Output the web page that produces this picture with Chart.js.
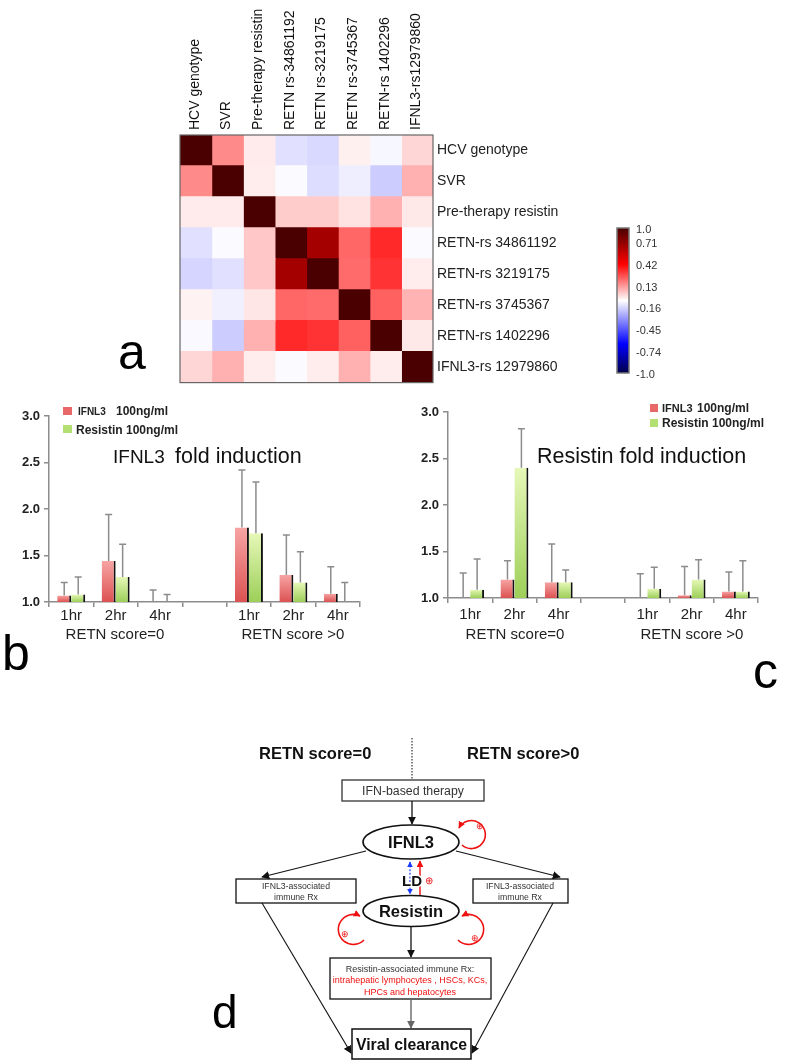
<!DOCTYPE html>
<html>
<head>
<meta charset="utf-8">
<script src="https://cdn.jsdelivr.net/npm/chart.js@4.4.1/dist/chart.umd.min.js"></script>
<style>
html, body { margin: 0; padding: 0; background: #fff; }
body { width: 787px; height: 1063px; position: relative; overflow: hidden; font-family: Arial, "Liberation Sans", sans-serif; }
canvas, svg { position: absolute; }
#heat { left: 170px; top: 0; }
#barB { left: 0; top: 395px; }
#barC { left: 395px; top: 395px; }
#over { left: 0; top: 0; }
svg text { font-family: Arial, "Liberation Sans", sans-serif; }
</style>
</head>
<body>
<canvas id="heat" width="430" height="395"></canvas>
<canvas id="barB" width="385" height="235"></canvas>
<canvas id="barC" width="392" height="235"></canvas>

<svg id="over" width="787" height="1063" xmlns="http://www.w3.org/2000/svg">
  <defs>
    <linearGradient id="cbar" x1="0" y1="0" x2="0" y2="1"></linearGradient>
    <marker id="ah" viewBox="0 0 10 10" refX="9" refY="5" markerWidth="8" markerHeight="8" markerUnits="userSpaceOnUse" orient="auto-start-reverse"><path d="M0,0 L10,5 L0,10 z" fill="#111"/></marker>
    <marker id="ahGray" viewBox="0 0 10 10" refX="9" refY="5" markerWidth="8" markerHeight="8" markerUnits="userSpaceOnUse" orient="auto-start-reverse"><path d="M0,0 L10,5 L0,10 z" fill="#666"/></marker>
    <marker id="ahRed" viewBox="0 0 10 10" refX="9" refY="5" markerWidth="7" markerHeight="7" markerUnits="userSpaceOnUse" orient="auto-start-reverse"><path d="M0,0 L10,5 L0,10 z" fill="#ee1111"/></marker>
    <marker id="ahBlue" viewBox="0 0 10 10" refX="9" refY="5" markerWidth="6" markerHeight="6" markerUnits="userSpaceOnUse" orient="auto-start-reverse"><path d="M0,0 L10,5 L0,10 z" fill="#1a3cff"/></marker>
  </defs>

  <!-- panel letters -->
  <text x="118" y="369" font-size="50">a</text>
  <text x="2" y="670" font-size="50">b</text>
  <text x="753" y="688" font-size="50">c</text>
  <text x="212" y="1028" font-size="46">d</text>

  <!-- colour bar -->
  <rect x="617" y="228" width="12" height="145" fill="url(#cbar)" stroke="#777" stroke-width="1.5"/>
  <g id="cbLabels" font-size="11" fill="#333"></g>

  <!-- panel b overlays -->
  <rect x="63" y="407" width="9" height="8" fill="#e8686a"/>
  <text x="78" y="415" font-size="10" font-weight="bold" fill="#222">IFNL3</text>
  <text x="116" y="415" font-size="12" font-weight="bold" fill="#222">100ng/ml</text>
  <rect x="63" y="425" width="9" height="8" fill="#b4df72"/>
  <text x="76" y="434" font-size="12" font-weight="bold" fill="#222">Resistin 100ng/ml</text>
  <text x="113" y="463" font-size="19" fill="#111">IFNL3</text>
  <text x="175" y="463" font-size="21.5" fill="#111">fold induction</text>
  <text x="115" y="639" font-size="15" fill="#222" text-anchor="middle">RETN score=0</text>
  <text x="293" y="639" font-size="15" fill="#222" text-anchor="middle">RETN score &gt;0</text>

  <!-- panel c overlays -->
  <rect x="650" y="404" width="8" height="8" fill="#e8686a"/>
  <text x="662" y="412" font-size="11" font-weight="bold" fill="#222">IFNL3</text>
  <text x="697" y="412" font-size="12" font-weight="bold" fill="#222">100ng/ml</text>
  <rect x="650" y="419" width="8" height="8" fill="#b4df72"/>
  <text x="662" y="427" font-size="12" font-weight="bold" fill="#222">Resistin 100ng/ml</text>
  <text x="537" y="463" font-size="21.5" fill="#111">Resistin fold induction</text>
  <text x="515" y="639" font-size="15" fill="#222" text-anchor="middle">RETN score=0</text>
  <text x="692" y="639" font-size="15" fill="#222" text-anchor="middle">RETN score &gt;0</text>

  <!-- panel d diagram -->
  <text x="259" y="759" font-size="16.5" font-weight="bold" fill="#111">RETN score=0</text>
  <text x="467" y="759" font-size="16.5" font-weight="bold" fill="#111">RETN score&gt;0</text>
  <line x1="412" y1="738" x2="412" y2="779" stroke="#333" stroke-width="1.2" stroke-dasharray="1.5 1.5"/>
  <rect x="342" y="780" width="142" height="21" fill="#fff" stroke="#333" stroke-width="1.3"/>
  <text x="413" y="795" font-size="12.3" fill="#333" text-anchor="middle">IFN-based therapy</text>
  <line x1="412" y1="801" x2="412" y2="824" stroke="#111" stroke-width="1.3" marker-end="url(#ah)"/>

  <ellipse cx="411" cy="842" rx="48" ry="17" fill="#fff" stroke="#111" stroke-width="1.6"/>
  <text x="411" y="848" font-size="16.5" font-weight="bold" fill="#111" text-anchor="middle">IFNL3</text>
  <path d="M462,845 A14,14 0 1 0 459,828" fill="none" stroke="#ee1111" stroke-width="1.6" marker-end="url(#ahRed)"/>
  <text x="480" y="829" font-size="9" fill="#ee1111" text-anchor="middle" font-family="DejaVu Sans">⊕</text>

  <line x1="366" y1="851" x2="262" y2="877" stroke="#111" stroke-width="1.2" marker-end="url(#ah)"/>
  <line x1="456" y1="851" x2="560" y2="877" stroke="#111" stroke-width="1.2" marker-end="url(#ah)"/>
  <rect x="236" y="879" width="120" height="24" fill="#fff" stroke="#111" stroke-width="1.3"/>
  <text x="296" y="889" font-size="8.7" fill="#333" text-anchor="middle">IFNL3-associated</text>
  <text x="296" y="899.5" font-size="8.7" fill="#333" text-anchor="middle">immune Rx</text>
  <rect x="473" y="879" width="95" height="24" fill="#fff" stroke="#111" stroke-width="1.3"/>
  <text x="520" y="889" font-size="8.7" fill="#333" text-anchor="middle">IFNL3-associated</text>
  <text x="520" y="899.5" font-size="8.7" fill="#333" text-anchor="middle">immune Rx</text>

  <line x1="410" y1="862" x2="410" y2="894" stroke="#1a3cff" stroke-width="1.2" stroke-dasharray="2 1.6" marker-start="url(#ahBlue)" marker-end="url(#ahBlue)"/>
  <line x1="420" y1="895" x2="420" y2="861" stroke="#ee1111" stroke-width="1.4" marker-end="url(#ahRed)"/>
  <text x="412" y="886" font-size="15" font-weight="bold" fill="#111" text-anchor="middle" stroke="#fff" stroke-width="3" paint-order="stroke">LD</text>
  <text x="429" y="884" font-size="10" fill="#ee1111" text-anchor="middle" font-family="DejaVu Sans">⊕</text>

  <ellipse cx="411" cy="911" rx="48" ry="15.5" fill="#fff" stroke="#111" stroke-width="1.6"/>
  <text x="411" y="917" font-size="16.5" font-weight="bold" fill="#111" text-anchor="middle">Resistin</text>
  <path d="M364,940 A15,15 0 1 1 360,916" fill="none" stroke="#ee1111" stroke-width="1.6" marker-end="url(#ahRed)"/>
  <text x="345" y="937" font-size="9" fill="#ee1111" text-anchor="middle" font-family="DejaVu Sans">⊕</text>
  <path d="M458,940 A15,15 0 1 0 462,916" fill="none" stroke="#ee1111" stroke-width="1.6" marker-end="url(#ahRed)"/>
  <text x="475" y="941" font-size="9" fill="#ee1111" text-anchor="middle" font-family="DejaVu Sans">⊕</text>

  <line x1="411" y1="927" x2="411" y2="957" stroke="#111" stroke-width="1.3" marker-end="url(#ah)"/>
  <rect x="330" y="958" width="161" height="41" fill="#fff" stroke="#111" stroke-width="1.3"/>
  <text x="410" y="971.5" font-size="9" fill="#333" text-anchor="middle">Resistin-associated immune Rx:</text>
  <text x="410" y="982.5" font-size="9" fill="#ee1111" text-anchor="middle">intrahepatic lymphocytes , HSCs, KCs,</text>
  <text x="410" y="994.5" font-size="9" fill="#ee1111" text-anchor="middle">HPCs and hepatocytes</text>
  <line x1="411" y1="999" x2="411" y2="1028" stroke="#666" stroke-width="1.4" marker-end="url(#ahGray)"/>

  <line x1="262" y1="903" x2="351" y2="1053" stroke="#111" stroke-width="1.1" marker-end="url(#ah)"/>
  <line x1="553" y1="903" x2="472" y2="1053" stroke="#111" stroke-width="1.1" marker-end="url(#ah)"/>
  <rect x="352" y="1029" width="119" height="30" fill="#fff" stroke="#111" stroke-width="1.5"/>
  <text x="411.5" y="1050" font-size="15.8" font-weight="bold" fill="#111" text-anchor="middle">Viral clearance</text>
</svg>

<script>
// heatmap (panel a)
const colNames = ['HCV genotype', 'SVR', 'Pre-therapy resistin', 'RETN rs-34861192', 'RETN rs-3219175', 'RETN rs-3745367', 'RETN-rs 1402296', 'IFNL3-rs12979860'];
const rowNames = ['HCV genotype', 'SVR', 'Pre-therapy resistin', 'RETN-rs 34861192', 'RETN-rs 3219175', 'RETN-rs 3745367', 'RETN-rs 1402296', 'IFNL3-rs 12979860'];
const corr = [
    [1.00, 0.23, 0.04, -0.07, -0.09, 0.03, -0.02, 0.08],
    [0.23, 1.00, 0.035, -0.01, -0.08, -0.04, -0.12, 0.155],
    [0.04, 0.04, 1.00, 0.10, 0.10, 0.055, 0.155, 0.045],
    [-0.07, -0.01, 0.11, 1.00, 0.75, 0.30, 0.42, -0.01],
    [-0.10, -0.07, 0.11, 0.75, 1.00, 0.29, 0.40, 0.035],
    [0.025, -0.035, 0.05, 0.30, 0.29, 1.00, 0.31, 0.15],
    [-0.015, -0.12, 0.155, 0.42, 0.40, 0.31, 1.00, 0.045],
    [0.08, 0.155, 0.035, -0.01, 0.035, 0.155, 0.035, 1.00]
];
const colorStops = [[-1, '#00004a'], [-0.6, '#0000ff'], [0, '#ffffff'], [0.5, '#ff0000'], [1, '#4a0000']];
const colorBarLabels = ['1.0', '0.71', '0.42', '0.13', '-0.16', '-0.45', '-0.74', '-1.0'];

// bar charts (panels b and c)
const hours = ['1hr', '2hr', '4hr', '', '1hr', '2hr', '4hr'];
const ifnl3InB = [1.07, 1.44, 1.00, null, 1.80, 1.29, 1.09];
const ifnl3InBErr = [1.21, 1.94, 1.13, null, 2.42, 1.72, 1.38];
const resistinInB = [1.08, 1.27, 1.00, null, 1.74, 1.21, 1.00];
const resistinInBErr = [1.27, 1.62, 1.08, null, 2.29, 1.54, 1.21];
const ifnl3InC = [1.00, 1.20, 1.17, null, 1.00, 1.03, 1.07];
const ifnl3InCErr = [1.27, 1.40, 1.58, null, 1.26, 1.34, 1.28];
const resistinInC = [1.09, 2.40, 1.17, null, 1.10, 1.20, 1.07];
const resistinInCErr = [1.42, 2.82, 1.30, null, 1.33, 1.41, 1.40];

Chart.defaults.font.family = 'Arial, "Liberation Sans", sans-serif';
Chart.defaults.color = '#222';

function hexToRgb(h) {
    return [parseInt(h.slice(1, 3), 16), parseInt(h.slice(3, 5), 16), parseInt(h.slice(5, 7), 16)];
}

function corrColor(v) {
    for (let k = 1; k < colorStops.length; k++) {
        const [v0, c0] = colorStops[k - 1];
        const [v1, c1] = colorStops[k];
        if (v <= v1) {
            const t = (v - v0) / (v1 - v0);
            const a = hexToRgb(c0), b = hexToRgb(c1);
            const m = a.map((x, i) => Math.round(x + (b[i] - x) * t));
            return `rgb(${m[0]},${m[1]},${m[2]})`;
        }
    }
    return colorStops[colorStops.length - 1][1];
}

// colour bar gradient (top = +1) + labels
const grad = document.getElementById('cbar');
colorStops.slice().reverse().forEach(([v, c]) => {
    const s = document.createElementNS('http://www.w3.org/2000/svg', 'stop');
    s.setAttribute('offset', ((1 - v) / 2).toFixed(3));
    s.setAttribute('stop-color', c);
    grad.appendChild(s);
});
const cbGroup = document.getElementById('cbLabels');
colorBarLabels.forEach((t, i) => {
    const y = i === 0 ? 229 : 243 + (i - 1) * 21.8;
    const el = document.createElementNS('http://www.w3.org/2000/svg', 'text');
    el.setAttribute('x', 636);
    el.setAttribute('y', y + 4);
    el.textContent = t;
    cbGroup.appendChild(el);
});

const frame = {
    id: 'frame',
    afterDraw(chart) {
        const { ctx, chartArea: a } = chart;
        ctx.save();
        ctx.strokeStyle = '#666';
        ctx.lineWidth = 1.2;
        ctx.strokeRect(a.left, a.top, a.right - a.left, a.bottom - a.top);
        ctx.restore();
    }
};

new Chart(document.getElementById('heat'), {
    type: 'bar',
    data: {
        labels: rowNames,
        datasets: colNames.map((c, j) => ({
            label: c,
            data: rowNames.map(() => 1),
            backgroundColor: rowNames.map((r, i) => corrColor(corr[i][j])),
            borderWidth: 0,
            inflateAmount: 0.6,
            barPercentage: 1,
            categoryPercentage: 1
        }))
    },
    options: {
        indexAxis: 'y',
        responsive: false,
        animation: false,
        layout: { padding: { left: 10, bottom: 6, top: 0, right: 0 } },
        plugins: { legend: { display: false }, tooltip: { enabled: false } },
        scales: {
            x: {
                type: 'linear', position: 'top', stacked: true, min: 0, max: 8,
                afterBuildTicks: s => { s.ticks = colNames.map((c, j) => ({ value: j + 0.5 })); },
                afterFit: s => { s.height = 135; },
                ticks: { autoSkip: false, minRotation: 90, maxRotation: 90, padding: 5, labelOffset: 16, font: { size: 14 }, color: '#111', callback: (v, i) => colNames[i] },
                grid: { display: false, drawTicks: false },
                border: { display: false }
            },
            y: {
                position: 'right', stacked: true,
                afterFit: s => { s.width = 167; },
                ticks: { padding: 4, font: { size: 14 }, color: '#222' },
                grid: { display: false, drawTicks: false },
                border: { display: false }
            }
        }
    },
    plugins: [frame]
});

function barFill(top, bottom) {
    return ctx => {
        const chart = ctx.chart;
        const y = chart.scales.y;
        if (!y || ctx.type !== 'data' || ctx.raw == null) return bottom;
        const y0 = y.getPixelForValue(ctx.raw);
        const y1 = y.getPixelForValue(1);
        if (!(y1 > y0 + 0.5) || !isFinite(y0)) return bottom;
        const g = chart.ctx.createLinearGradient(0, y0, 0, y1);
        g.addColorStop(0, top);
        g.addColorStop(1, bottom);
        return g;
    };
}

const errorBars = {
    id: 'errorBars',
    afterDatasetsDraw(chart) {
        const { ctx } = chart;
        const y = chart.scales.y;
        ctx.save();
        ctx.strokeStyle = '#8c8c8c';
        ctx.lineWidth = 1.5;
        chart.data.datasets.forEach((ds, i) => {
            const meta = chart.getDatasetMeta(i);
            ds.errors.forEach((e, j) => {
                if (e == null || ds.data[j] == null) return;
                const x = meta.data[j].x;
                const yTop = y.getPixelForValue(e);
                const yBar = y.getPixelForValue(ds.data[j]);
                ctx.beginPath();
                ctx.moveTo(x, yBar);
                ctx.lineTo(x, yTop);
                ctx.moveTo(x - 3.5, yTop);
                ctx.lineTo(x + 3.5, yTop);
                ctx.stroke();
            });
        });
        ctx.restore();
    }
};

function foldChart(id, reds, redErr, greens, greenErr, lay) {
    return new Chart(document.getElementById(id), {
        type: 'bar',
        data: {
            labels: hours,
            datasets: [
                { label: 'IFNL3 100ng/ml', data: reds, errors: redErr, backgroundColor: barFill('#f7a4a4', '#dc5252') },
                { label: 'Resistin 100ng/ml', data: greens, errors: greenErr, backgroundColor: barFill('#e6f8b8', '#9dcf58') }
            ]
        },
        options: {
            responsive: false,
            animation: false,
            layout: { padding: { top: lay.top, right: lay.right, left: 0, bottom: 0 } },
            datasets: {
                bar: {
                    barPercentage: 1, categoryPercentage: 0.63,
                    borderColor: '#111', borderWidth: { top: 0, right: 2, bottom: 0, left: 0 }, borderSkipped: false
                }
            },
            plugins: { legend: { display: false }, tooltip: { enabled: false } },
            scales: {
                x: {
                    afterFit: s => { s.height = lay.xh; },
                    grid: { drawOnChartArea: false, tickLength: 5, color: '#8c8c8c', lineWidth: 1.5, offset: true },
                    border: { color: '#8c8c8c', width: 1.5 },
                    ticks: { font: { size: 15 }, color: '#222', padding: lay.tp, maxRotation: 0, autoSkip: false }
                },
                y: {
                    min: 1, max: 3,
                    afterFit: s => { s.width = lay.yw; },
                    grid: { drawOnChartArea: false, tickLength: 5, color: '#8c8c8c', lineWidth: 1.5 },
                    border: { color: '#8c8c8c', width: 1.5 },
                    ticks: { stepSize: 0.5, font: { size: 13, weight: 'bold' }, color: '#222', padding: 4, callback: v => v.toFixed(1) }
                }
            }
        },
        plugins: [errorBars]
    });
}

foldChart('barB', ifnl3InB, ifnl3InBErr, resistinInB, resistinInBErr, { top: 21, right: 25, xh: 28, yw: 49, tp: 0 });
foldChart('barC', ifnl3InC, ifnl3InCErr, resistinInC, resistinInCErr, { top: 17, right: 29, xh: 32, yw: 53, tp: 3 });
</script>
</body>
</html>
